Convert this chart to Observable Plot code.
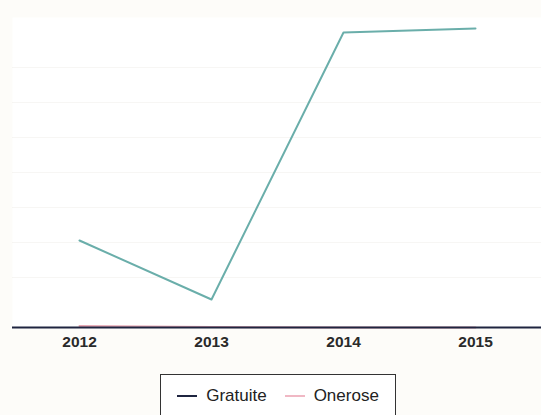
<!DOCTYPE html>
<html>
<head>
<meta charset="utf-8">
<script src="https://cdn.jsdelivr.net/npm/d3@7"></script>
<script src="https://cdn.jsdelivr.net/npm/@observablehq/plot@0.6"></script>
<style>
  body { margin: 0; background: #fdfcf9; font-family: "Liberation Sans", Arial, sans-serif; }
  #wrap { width: 541px; }
  #leg { margin-left: 160px; margin-top: 19px; width: 236px; height: 44px; border: 1px solid #333; box-sizing: border-box; background: #fff;
         display: flex; align-items: center; justify-content: center; gap: 18px; font-size: 17px; color: #222; }
  #leg .item { display: flex; align-items: center; gap: 9px; }
  #leg .sw { display: inline-block; width: 20px; height: 2px; }
</style>
</head>
<body>
<div id="wrap"></div>
<div id="leg"><span class="item"><span class="sw" style="background:#1f2540"></span>Gratuite</span><span class="item"><span class="sw" style="background:#f0b8c4"></span>Onerose</span></div>
<script>
const years = ["2012", "2013", "2014", "2015"];
const gratuite = [87, 28, 295, 299];
const onerose = [1.5, 0.5, 0, 0];

const rows = years.map((y, i) => ({year: y, value: gratuite[i], serie: "Gratuite"}));
const rowsO = years.map((y, i) => ({year: y, value: onerose[i], serie: "Onerose"}));

const chart = Plot.plot({
  width: 541,
  height: 355,
  marginLeft: 12,
  marginRight: 0,
  marginTop: 17,
  marginBottom: 28,
  style: {background: "transparent", fontFamily: "Liberation Sans, Arial, sans-serif", display: "block"},
  x: {type: "point", domain: years, padding: 0.5, label: null},
  y: {domain: [0, 310], axis: null},
  marks: [
    Plot.frame({fill: "#ffffff", stroke: "none"}),
    Plot.gridY([50, 85, 120, 155, 190, 225, 260], {stroke: "#ebe9e3", strokeOpacity: 0.4}),
    Plot.line(rowsO, {x: "year", y: "value", stroke: "#e8a8b4", strokeWidth: 2}),
    Plot.ruleY([0], {stroke: "#1f2540", strokeWidth: 2}),
    Plot.line(rows, {x: "year", y: "value", stroke: "#6aaeaa", strokeWidth: 2}),
    Plot.axisX({tickSize: 0, tickPadding: 8, fontSize: 15.5, fontWeight: "bold", fill: "#2a2a2a"})
  ]
});
document.getElementById("wrap").appendChild(chart);
</script>
</body>
</html>
